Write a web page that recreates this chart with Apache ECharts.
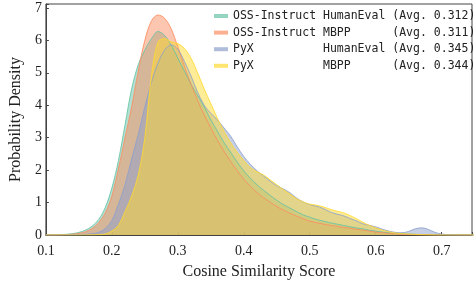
<!DOCTYPE html>
<html>
<head>
<meta charset="utf-8">
<script src="https://cdn.jsdelivr.net/npm/echarts@6/dist/echarts.min.js"></script>
<style>
  html, body { margin: 0; padding: 0; background: #fff; }
</style>
</head>
<body>
<div id="chart" style="width: 475px; height: 285px;"></div>
<script>
// x grid (cosine similarity) shared by all curves
const xs = [0.10, 0.11, 0.12, 0.13, 0.14, 0.15, 0.16, 0.17, 0.18, 0.19,
  0.20, 0.21, 0.22, 0.23, 0.24, 0.25, 0.26, 0.27, 0.28, 0.29,
  0.30, 0.31, 0.32, 0.33, 0.34, 0.35, 0.36, 0.37, 0.38, 0.39,
  0.40, 0.41, 0.42, 0.43, 0.44, 0.45, 0.46, 0.47, 0.48, 0.49,
  0.50, 0.51, 0.52, 0.53, 0.54, 0.55, 0.56, 0.57, 0.58, 0.59,
  0.60, 0.61, 0.62, 0.63, 0.64, 0.65, 0.66, 0.67, 0.68, 0.69,
  0.70, 0.71, 0.72, 0.73, 0.74, 0.75];

const ossHumanEval = [0, 0.003, 0.01, 0.02, 0.04, 0.08, 0.15, 0.27, 0.48, 0.85,
  1.45, 2.3, 3.4, 4.5, 5.25, 5.7, 6.05, 6.27, 6.15, 5.85,
  5.45, 5.05, 4.65, 4.3, 3.95, 3.55, 3.2, 2.85, 2.55, 2.25,
  1.98, 1.75, 1.55, 1.38, 1.22, 1.07, 0.94, 0.83, 0.72, 0.62,
  0.55, 0.48, 0.43, 0.38, 0.34, 0.3, 0.26, 0.22, 0.19, 0.15,
  0.12, 0.09, 0.07, 0.05, 0.04, 0.03, 0.02, 0.015, 0.01, 0.005,
  0.003, 0.002, 0, 0, 0, 0];

const ossMbpp = [0, 0, 0.005, 0.012, 0.025, 0.05, 0.1, 0.2, 0.38, 0.68,
  1.2, 2.05, 3.0, 3.95, 5.05, 6.0, 6.6, 6.78, 6.68, 6.35,
  5.8, 5.2, 4.65, 4.15, 3.7, 3.3, 2.92, 2.58, 2.27, 1.98,
  1.72, 1.5, 1.31, 1.15, 1.01, 0.88, 0.77, 0.67, 0.58, 0.5,
  0.43, 0.38, 0.34, 0.3, 0.27, 0.24, 0.21, 0.18, 0.15, 0.12,
  0.09, 0.07, 0.05, 0.035, 0.02, 0.015, 0.01, 0.005, 0.003, 0,
  0, 0, 0, 0, 0, 0];

const pyxHumanEval = [0, 0, 0, 0.003, 0.006, 0.01, 0.02, 0.04, 0.08, 0.2,
  0.45, 0.95, 1.55, 2.35, 3.1, 3.95, 4.7, 5.3, 5.7, 5.86,
  5.72, 5.35, 4.9, 4.4, 4.0, 3.75, 3.55, 3.3, 3.05, 2.72,
  2.42, 2.18, 1.98, 1.82, 1.66, 1.52, 1.42, 1.3, 1.14, 1.02,
  0.94, 0.89, 0.82, 0.72, 0.65, 0.6, 0.52, 0.44, 0.35, 0.3,
  0.25, 0.18, 0.12, 0.08, 0.07, 0.11, 0.19, 0.22, 0.17, 0.08,
  0.03, 0.01, 0.005, 0, 0, 0];

const pyxMbpp = [0, 0, 0, 0, 0, 0, 0.002, 0.005, 0.01, 0.03,
  0.12, 0.3, 0.72, 1.2, 1.85, 3.0, 4.9, 5.95, 6.05, 5.95,
  5.9, 5.75, 5.45, 5.0, 4.5, 4.05, 3.6, 3.2, 2.85, 2.55,
  2.3, 2.08, 1.95, 1.85, 1.7, 1.55, 1.4, 1.26, 1.12, 1.02,
  0.95, 0.92, 0.87, 0.8, 0.74, 0.69, 0.61, 0.51, 0.4, 0.3,
  0.22, 0.15, 0.1, 0.06, 0.04, 0.03, 0.02, 0.01, 0.005, 0,
  0, 0, 0, 0, 0, 0];

const seriesNames = [
  'OSS-Instruct HumanEval (Avg. 0.312)',
  'OSS-Instruct MBPP      (Avg. 0.311)',
  'PyX          HumanEval (Avg. 0.345)',
  'PyX          MBPP      (Avg. 0.344)'
];
const seriesValues = [ossHumanEval, ossMbpp, pyxHumanEval, pyxMbpp];
const colors = ['#66c2a5', '#fc8d62', '#8da0cb', '#ffd92f'];
const legendColors = ['rgba(102,194,165,0.7)', 'rgba(252,141,98,0.7)', 'rgba(141,160,203,0.7)', 'rgba(255,217,47,0.7)'];

const serif = 'Liberation Serif, Times New Roman, serif';

const chart = echarts.init(document.getElementById('chart'));

chart.setOption({
  animation: false,
  grid: {
    left: 43, right: -2, top: 4, bottom: 50,
    show: true, borderColor: '#444', borderWidth: 1
  },
  legend: {
    orient: 'vertical',
    left: 209,
    top: 4,
    icon: 'rect',
    itemWidth: 14,
    itemHeight: 4,
    itemGap: 2.6,
    textStyle: { fontFamily: 'DejaVu Sans Mono', fontSize: 11.5, color: '#222', lineHeight: 14 },
    data: seriesNames.map((n, i) => ({ name: n, itemStyle: { color: legendColors[i] } }))
  },
  xAxis: {
    type: 'value',
    min: 0.1,
    max: 0.746,
    interval: 0.1,
    name: 'Cosine Similarity Score',
    nameLocation: 'middle',
    nameGap: 29,
    nameTextStyle: { fontFamily: serif, fontSize: 16, color: '#222' },
    axisLine: { show: true, onZero: false, lineStyle: { color: '#444' } },
    axisTick: { show: true, inside: true, length: 3, lineStyle: { color: '#444' } },
    splitLine: { show: false },
    axisLabel: {
      fontFamily: serif, fontSize: 14, color: '#222', margin: 9,
      formatter: v => {
        const r = Math.round(v * 10);
        return Math.abs(v * 10 - r) < 1e-6 ? (r / 10).toFixed(1) : '';
      }
    }
  },
  yAxis: {
    type: 'value',
    min: 0,
    max: 7.12,
    interval: 1,
    name: 'Probability Density',
    nameLocation: 'middle',
    nameGap: 17,
    nameTextStyle: { fontFamily: serif, fontSize: 16, color: '#222' },
    axisLine: { show: true, lineStyle: { color: '#444' } },
    axisTick: { show: true, inside: true, length: 3, lineStyle: { color: '#444' } },
    splitLine: { show: false },
    axisLabel: {
      fontFamily: serif, fontSize: 14, color: '#222', margin: 4,
      formatter: v => (Math.abs(v - Math.round(v)) < 1e-6 ? String(Math.round(v)) : '')
    }
  },
  series: seriesValues.map((vals, i) => ({
    name: seriesNames[i],
    type: 'line',
    smooth: 0.35,
    symbol: 'none',
    color: colors[i],
    lineStyle: { width: 1, color: colors[i], opacity: 0.85 },
    areaStyle: { color: colors[i], opacity: 0.5 },
    data: xs.map((x, j) => [x, vals[j]])
  }))
});
</script>
</body>
</html>
